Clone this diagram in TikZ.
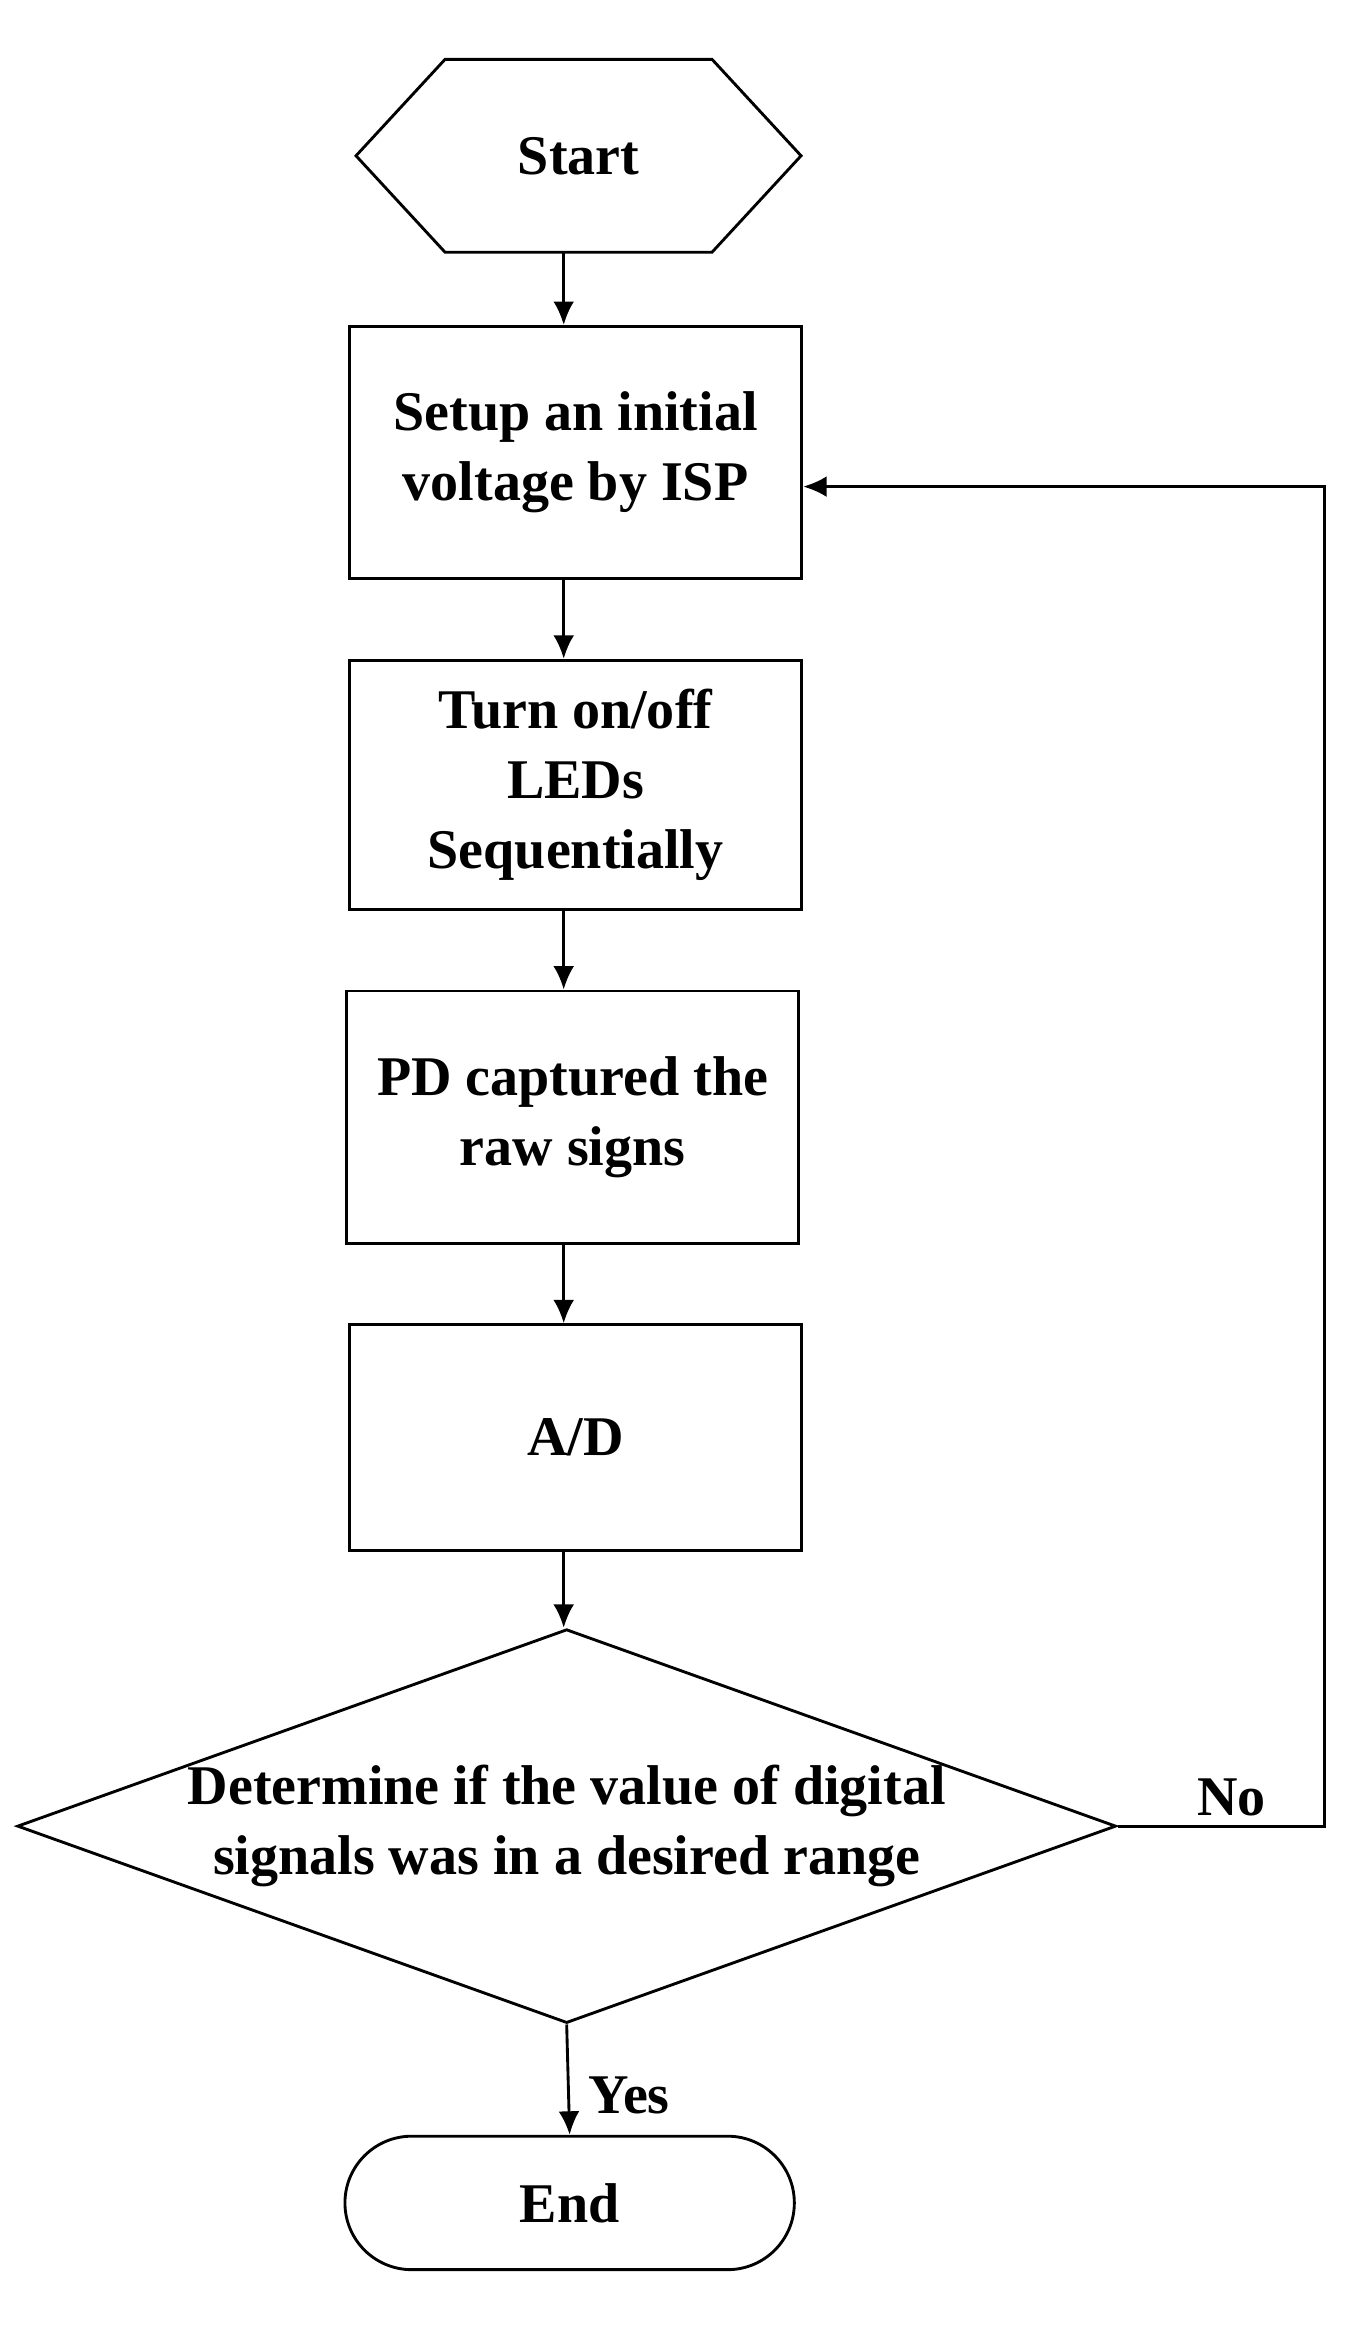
\documentclass[tikz,border=0pt]{standalone}
\usepackage{fontspec}
\setmainfont{Liberation Serif}
\usetikzlibrary{shapes.geometric,arrows.meta}
\begin{document}
\begin{tikzpicture}[x=0.02cm,y=-0.02cm,line width=1.1pt,
    txt/.style={font=\fontsize{21.5}{27}\selectfont\bfseries},
    box/.style={draw,rectangle,minimum width=6.1cm,minimum height=3.3cm,align=center,txt},
    arr/.style={-{Latex[length=9pt,width=8pt]}}]
  \useasboundingbox (0,0) rectangle (910,1570);
  \draw (240,105) -- (300,40) -- (480,40) -- (540,105) -- (480,170) -- (300,170) -- cycle;
  \node[txt] (start) at (390,105) {Start};
  \coordinate (startb) at (380,170);
  \node[box,minimum height=3.4cm] (setup) at (388,305) {Setup an initial\\voltage by ISP};
  \node[box,minimum height=3.36cm] (leds) at (388,529) {Turn on/off\\LEDs\\Sequentially};
  \node[box,minimum height=3.4cm] (pd) at (386,753) {PD captured the\\raw signs};
  \node[box,minimum height=3.04cm] (ad) at (388,969) {A/D};
  \node[draw,diamond,aspect=2.79,minimum width=14.4cm,minimum height=5.16cm,inner sep=0pt,align=center,
    txt] (check) at (382,1231)
    {Determine if the value of digital\\signals was in a desired range};
  \node[draw,rectangle,rounded corners=0.9cm,minimum width=6.06cm,minimum height=1.8cm,
    txt] (end) at (384,1485) {End};
  \coordinate (loop) at (893,1231);
  \draw[arr] (startb) -- (startb |- setup.north);
  \draw[arr] (setup.south -| startb) -- (leds.north -| startb);
  \draw[arr] (leds.south -| startb) -- (pd.north -| startb);
  \draw[arr] (pd.south -| startb) -- (ad.north -| startb);
  \draw[arr] (ad.south -| startb) -- (check.north -| startb);
  \draw[arr] (check.south) -- node[right,xshift=4pt,yshift=-6pt,txt]{Yes} (end.north);
  \draw[arr] (check.east) -- node[above,pos=0.55,txt]{No} (loop) |- (setup.east |- 0,328);
\end{tikzpicture}
\end{document}
